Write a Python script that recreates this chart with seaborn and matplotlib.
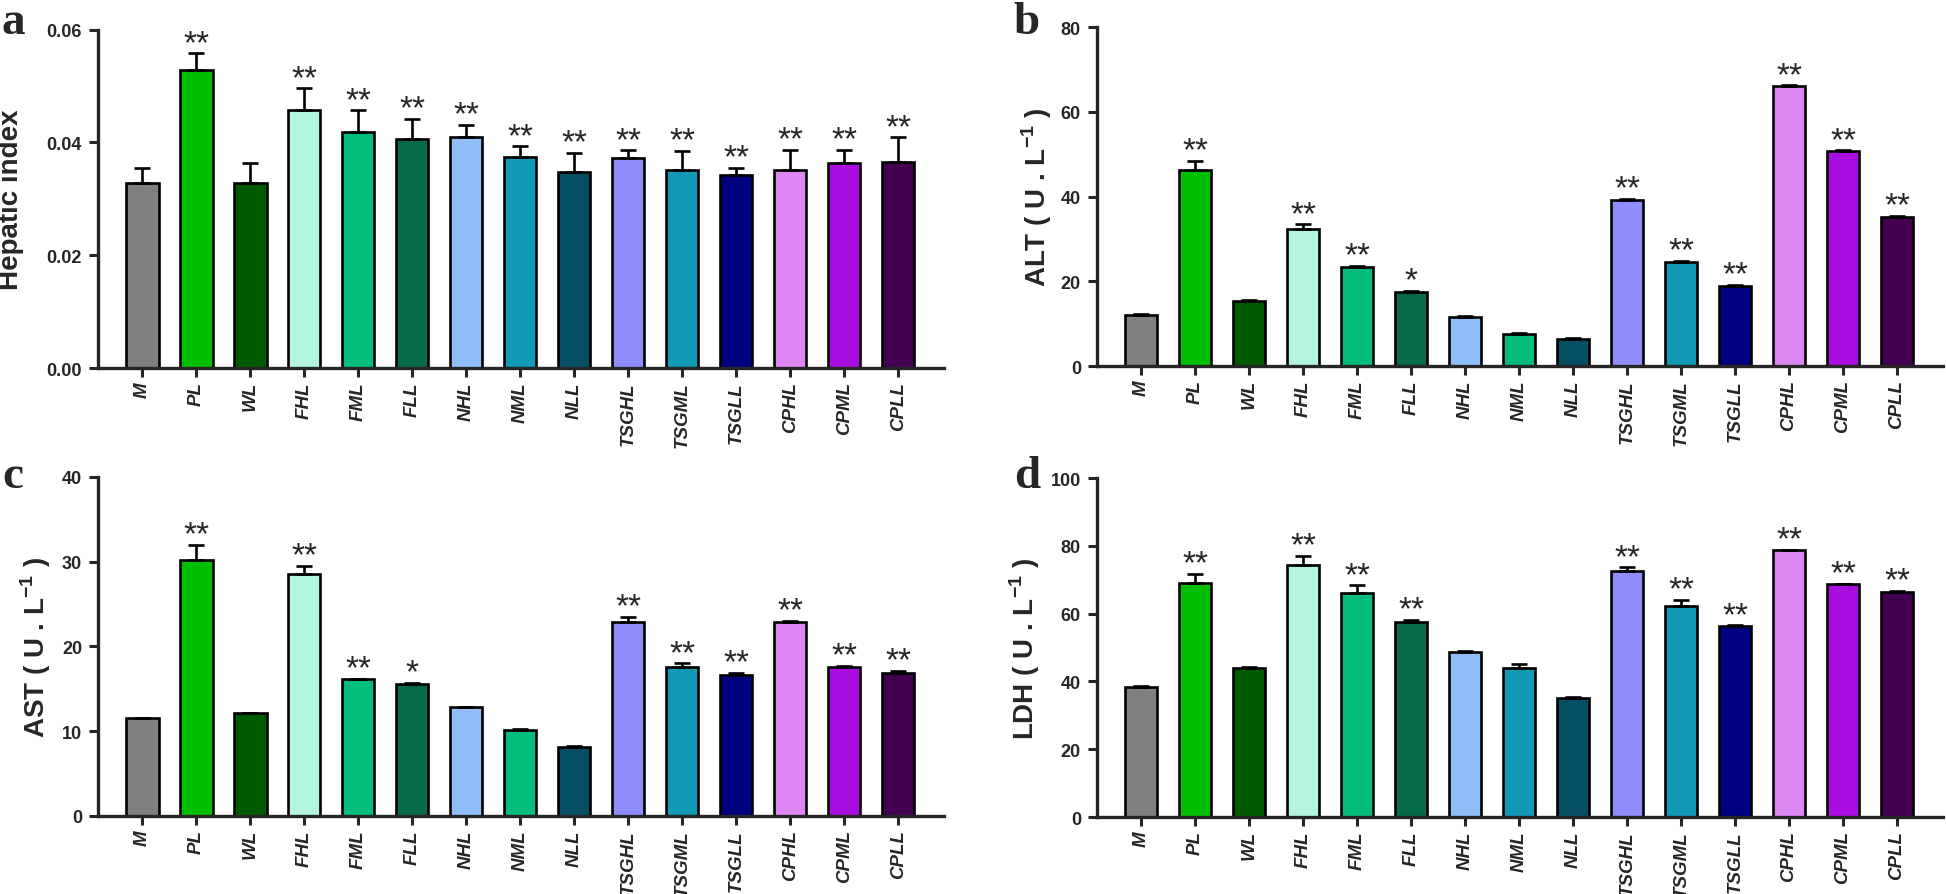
import numpy as np
import matplotlib
matplotlib.use('Agg')
import matplotlib.pyplot as plt
import seaborn as sns

sns.set_style('ticks')
plt.rcParams['font.family'] = ['Liberation Sans', 'DejaVu Sans']
plt.rcParams['mathtext.fontset'] = 'custom'
plt.rcParams['mathtext.rm'] = 'Liberation Sans'
plt.rcParams['mathtext.bf'] = 'Liberation Sans:bold'

# groups
groups = ['M', 'PL', 'WL', 'FHL', 'FML', 'FLL', 'NHL', 'NML', 'NLL',
          'TSGHL', 'TSGML', 'TSGLL', 'CPHL', 'CPML', 'CPLL']

# a - hepatic index
hep_mean = [0.0328, 0.0529, 0.0328, 0.0458, 0.0419, 0.0406, 0.0409, 0.0375, 0.0347,
            0.0373, 0.0352, 0.0342, 0.0352, 0.0364, 0.0366]
hep_sem = [0.0026, 0.0029, 0.0035, 0.0038, 0.0038, 0.0036, 0.0022, 0.0018, 0.0035,
           0.0013, 0.0033, 0.0013, 0.0035, 0.0023, 0.0043]
hep_sig = ['', '**', '', '**', '**', '**', '**', '**', '**', '**', '**', '**', '**', '**', '**']

# b - ALT
alt_mean = [12.0, 46.3, 15.3, 32.4, 23.4, 17.5, 11.6, 7.5, 6.4, 39.1, 24.5, 19.0, 66.0, 50.7, 35.2]
alt_sem = [0.2, 2.2, 0.2, 1.0, 0.2, 0.2, 0.2, 0.2, 0.2, 0.3, 0.3, 0.2, 0.2, 0.2, 0.2]
alt_sig = ['', '**', '', '**', '**', '*', '', '', '', '**', '**', '**', '**', '**', '**']

# c - AST
ast_mean = [11.5, 30.2, 12.1, 28.5, 16.1, 15.6, 12.8, 10.1, 8.1, 22.9, 17.6, 16.6, 22.9, 17.6, 16.9]
ast_sem = [0.1, 1.8, 0.1, 1.0, 0.1, 0.1, 0.1, 0.15, 0.1, 0.6, 0.4, 0.3, 0.1, 0.1, 0.2]
ast_sig = ['', '**', '', '**', '**', '*', '', '', '', '**', '**', '**', '**', '**', '**']

# d - LDH
ldh_mean = [38.5, 68.9, 44.1, 74.4, 66.2, 57.6, 48.6, 44.1, 35.1, 72.6, 62.1, 56.2, 78.7, 68.6, 66.5]
ldh_sem = [0.2, 2.9, 0.2, 2.6, 2.1, 0.6, 0.3, 0.9, 0.2, 1.1, 1.9, 0.3, 0.2, 0.2, 0.2]
ldh_sig = ['', '**', '', '**', '**', '**', '', '', '', '**', '**', '**', '**', '**', '**']

colors = ['#808080', '#00BF00', '#005A00', '#B3F5E0', '#05BD7A', '#066B48', '#8FBDF7', '#1199B5',
          '#044F63', '#8F8CFB', '#1199B5', '#000080', '#DD88F2', '#AA0DE0', '#430050']
# in b and c the NML bar is green
colors_bc = colors.copy()
colors_bc[7] = '#05BD7A'

fig = plt.figure(figsize=(19.46, 8.95), dpi=100)

panels = [
    ('a', hep_mean, hep_sem, hep_sig, colors, 'Hepatic index', 0.06, [0, 0.02, 0.04, 0.06],
     ['0.00', '0.02', '0.04', '0.06'], [0.0504, 0.5877, 0.4347, 0.378], -0.087),
    ('b', alt_mean, alt_sem, alt_sig, colors_bc, r'ALT ( U . L$^{\mathbf{-1}}$ )', 80,
     [0, 20, 40, 60, 80], None, [0.5637, 0.5899, 0.4347, 0.3788], -0.051),
    ('c', ast_mean, ast_sem, ast_sig, colors_bc, r'AST ( U . L$^{\mathbf{-1}}$ )', 40,
     [0, 10, 20, 30, 40], None, [0.0504, 0.0872, 0.4347, 0.3788], -0.053),
    ('d', ldh_mean, ldh_sem, ldh_sig, colors, r'LDH ( U . L$^{\mathbf{-1}}$ )', 100,
     [0, 20, 40, 60, 80, 100], None, [0.5637, 0.0860, 0.4347, 0.3788], -0.065),
]

for letter, mean, sem, sig, pal, ylab, ytop, yt, ytl, pos, labx in panels:
    ax = fig.add_axes(pos)
    sns.barplot(x=groups, y=mean, hue=groups, palette=pal, legend=False, ax=ax,
                width=0.6, edgecolor='black', linewidth=1.9, errorbar=None, saturation=1)
    xs = np.arange(len(groups))
    ax.errorbar(xs, mean, yerr=[np.zeros(len(mean)), sem], fmt='none', ecolor='black',
                elinewidth=1.9, capsize=6, capthick=1.9)
    for x, m, s, t in zip(xs, mean, sem, sig):
        if t:
            ax.annotate(t, (x, m + s), xytext=(0, 1), textcoords='offset points',
                        ha='center', va='baseline', fontsize=24)
    ax.set_xlim(-0.82, 14.85)
    ax.set_ylim(0, ytop)
    ax.set_yticks(yt)
    if ytl is not None:
        ax.set_yticklabels(ytl)
    for lab in ax.get_yticklabels():
        lab.set_fontweight('bold')
        lab.set_fontsize(13)
    ax.set_xticks(xs, groups, rotation=90, fontsize=13.5, fontweight='bold', fontstyle='italic')
    ax.tick_params(axis='both', width=2.2, length=6.5, direction='out')
    ax.tick_params(axis='y', pad=5)
    ax.tick_params(axis='x', pad=3)
    sns.despine(ax=ax)
    for sp in ['left', 'bottom']:
        ax.spines[sp].set_linewidth(2.4)
    ax.set_xlabel('')
    ax.set_ylabel(ylab, fontsize=20, fontweight='bold')
    ax.yaxis.set_label_coords(labx, 0.5)
    # panel letter
    fx = 0.001 if letter in 'ac' else 0.521
    fy = 0.962 if letter in 'ab' else 0.455
    fig.text(fx, fy, letter, fontsize=34, fontweight='bold', family=['Liberation Serif', 'DejaVu Serif'],
             ha='left', va='baseline')

plt.savefig('out.png', dpi=100)
